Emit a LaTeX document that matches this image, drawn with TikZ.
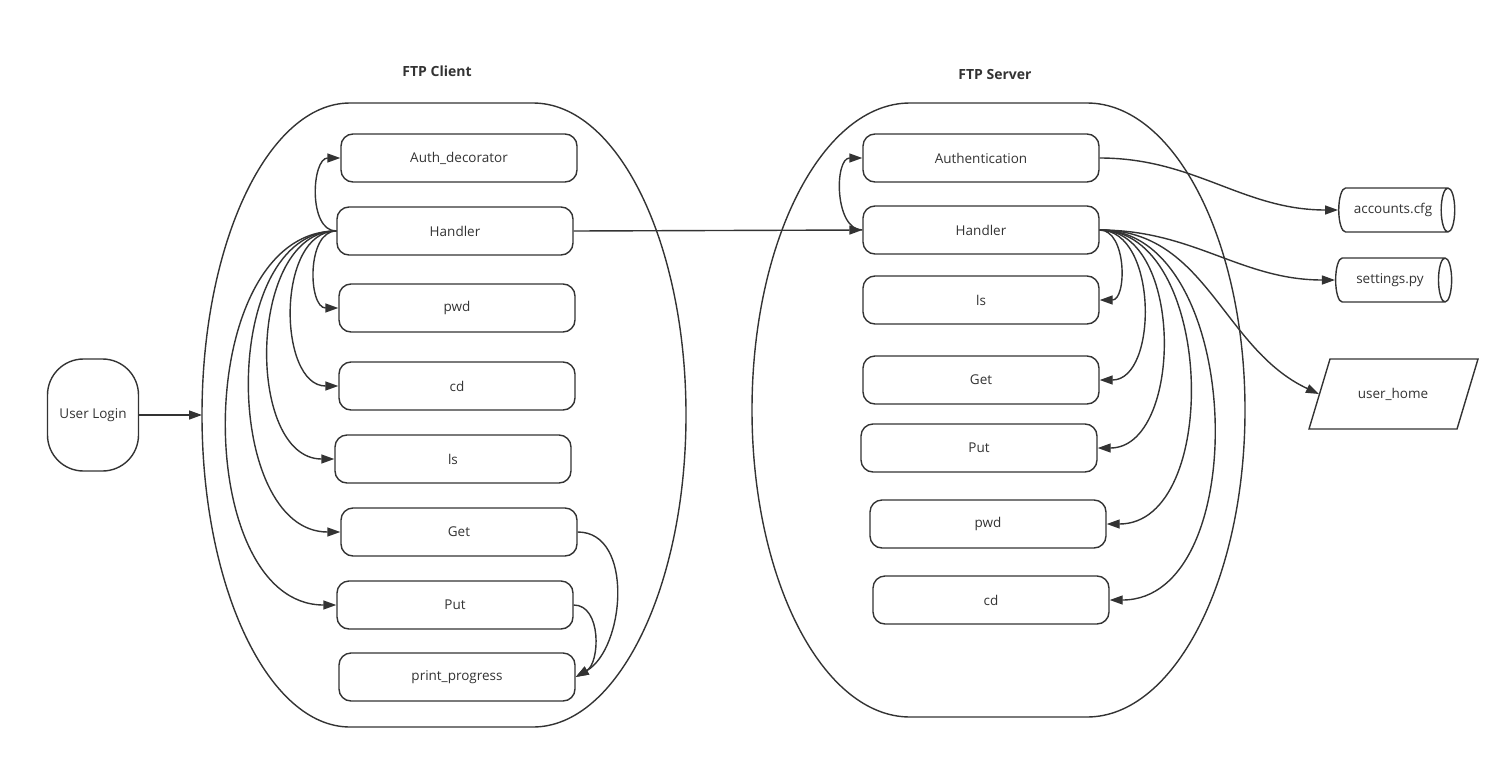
\documentclass[tikz,border=0pt]{standalone}
\usepackage{fontspec}
\setmainfont{Open Sans}
\usetikzlibrary{arrows.meta,shapes.geometric}
\definecolor{ink}{HTML}{333333}
\begin{document}
\begin{tikzpicture}
      [x=1pt,y=1pt,color=ink,line width=1.4pt,
      box/.style={draw,rounded corners=12pt,minimum width=236pt,minimum height=48pt,inner sep=0pt,font=\fontsize{13.5}{16}\selectfont},
      ttl/.style={font=\bfseries\fontsize{14}{16}\selectfont},
      cyl/.style={draw,cylinder,shape aspect=1,minimum width=44pt,minimum height=116pt,inner sep=0pt,font=\fontsize{13.5}{16}\selectfont},
      arr/.style={-{Triangle[length=13pt,width=9pt]}}]
      \useasboundingbox (0,0) rectangle (1510,-758);
      \node[ttl] (tcl) at (437,-71) {FTP Client};
      \node[ttl] (tsv) at (995,-74) {FTP Server};
      \draw (350,-103) -- (533,-103)
        arc[start angle=90,end angle=-90,x radius=153pt,y radius=312pt]
        -- (350,-727)
        arc[start angle=270,end angle=90,x radius=148pt,y radius=312pt] -- cycle;
      \coordinate (cedge) at (202,-415);
      \draw (910,-103) -- (1087,-103)
        arc[start angle=90,end angle=-90,x radius=158pt,y radius=307pt]
        -- (910,-717)
        arc[start angle=270,end angle=90,x radius=158pt,y radius=307pt] -- cycle;
      \node[draw,rounded corners=36pt,minimum width=91pt,minimum height=112pt,font=\fontsize{13.5}{16}\selectfont] (login) at (93,-415) {User Login};
      \node[box] (cauth) at (459,-158) {Auth\_decorator};
      \node[box] (chd) at (455,-231) {Handler};
      \node[box] (cpwd) at (457,-308) {pwd};
      \node[box] (ccd) at (457,-386) {cd};
      \node[box] (cls) at (453,-459) {ls};
      \node[box] (cget) at (459,-532) {Get};
      \node[box] (cput) at (455,-605) {Put};
      \node[box] (cprog) at (457,-677) {print\_progress};
      \node[box] (sauth) at (981,-158) {Authentication};
      \node[box] (shd) at (981,-230) {Handler};
      \node[box] (sls) at (981,-300) {ls};
      \node[box] (sget) at (981,-380) {Get};
      \node[box] (sput) at (979,-448) {Put};
      \node[box] (spwd) at (988,-524) {pwd};
      \node[box] (scd) at (991,-600) {cd};
      \node[cyl] (acc) at (1393,-210) {accounts.cfg};
      \node[cyl] (set) at (1390,-280) {settings.py};
      \node[font=\fontsize{13.5}{16}\selectfont] (home) at (1393,-394) {user\_home};
      \draw (1330,-359) -- (1478,-359) -- (1457,-429) -- (1309,-429) -- cycle;
      \coordinate (homein) at (1319,-394);
      \draw[arr] (login) -- (cedge);
      \draw[arr] (chd.west) to[out=180,in=180] (cauth.west);
      \foreach \t in {cpwd,ccd,cls,cget,cput}
        \draw[arr] (chd.west) to[out=180,in=180] (\t.west);
      \draw[arr] (cget.east) to[out=0,in=30] (cprog.east);
      \draw[arr] (cput.east) to[out=0,in=30] (cprog.east);
      \draw[arr] (chd.east) -- (shd.west);
      \draw[arr] (shd.west) to[out=180,in=180] (sauth.west);
      \foreach \t in {sls,sget,sput,spwd,scd}
        \draw[arr] (shd.east) to[out=0,in=0] (\t.east);
      \draw[arr] (sauth.east) to[out=0,in=180] (acc.west);
      \draw[arr] (shd.east) to[out=0,in=180] (set.west);
      \draw[arr] (shd.east) to[out=0,in=155] (homein);
    \end{tikzpicture}
\end{document}
